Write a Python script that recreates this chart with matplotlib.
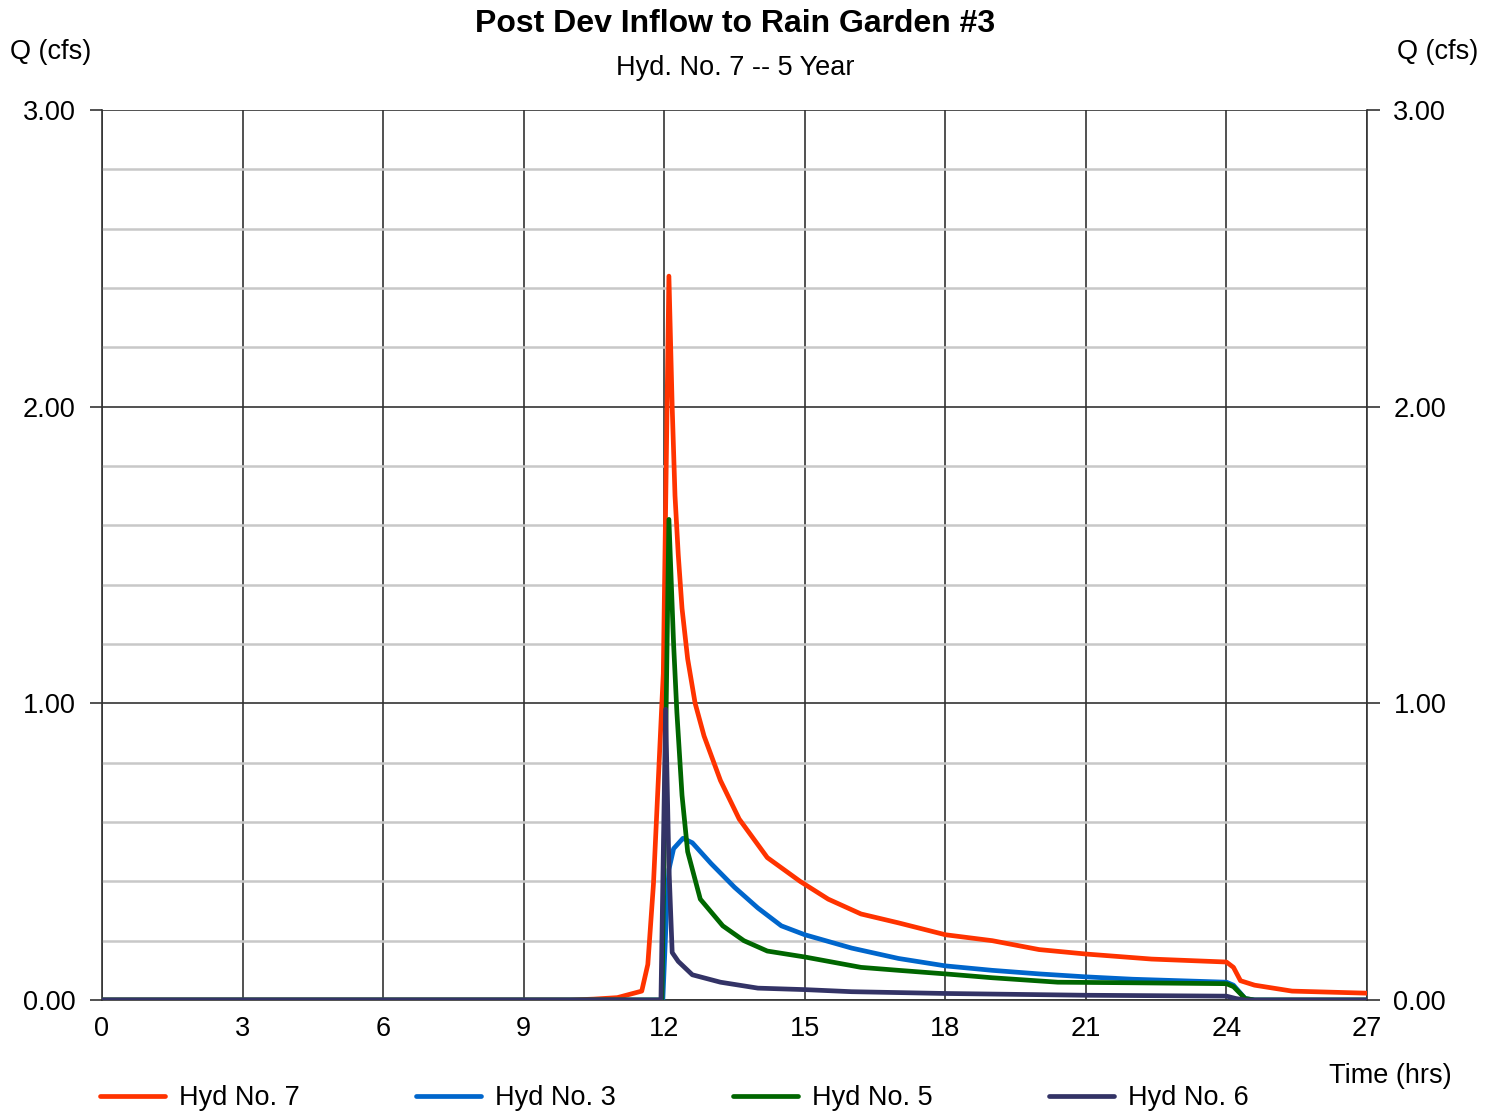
import matplotlib
matplotlib.use("Agg")
import matplotlib.pyplot as plt
from matplotlib.ticker import MultipleLocator

plt.rcParams['font.family'] = ['Liberation Sans', 'DejaVu Sans']

# hydrograph data (time in hrs, Q in cfs)
t_hyd7 = [0, 10.0, 10.5, 11.0, 11.52, 11.65, 11.77, 11.95, 11.98, 12.1, 12.17, 12.23, 12.3,
          12.38, 12.5, 12.66, 12.85, 13.2, 13.6, 14.2, 14.9, 15.5, 16.2, 17.0, 18.0, 19.0,
          20.0, 21.0, 22.4, 24.0, 24.15, 24.3, 24.6, 25.4, 27.0]
q_hyd7 = [0, 0.0, 0.003, 0.008, 0.03, 0.12, 0.39, 1.0, 1.1, 2.44, 2.0, 1.7, 1.5,
          1.32, 1.15, 1.0, 0.89, 0.74, 0.61, 0.48, 0.4, 0.34, 0.29, 0.26, 0.22, 0.2,
          0.17, 0.155, 0.138, 0.128, 0.11, 0.065, 0.05, 0.03, 0.023]

t_hyd3 = [0, 11.9, 11.97, 12.05, 12.1, 12.2, 12.4, 12.6, 13.0, 13.5, 14.0, 14.5, 15.0,
          16.0, 17.0, 18.0, 19.0, 20.0, 21.0, 22.0, 23.0, 24.0, 24.15, 24.4, 24.6, 27.0]
q_hyd3 = [0, 0, 0.0, 0.3, 0.44, 0.51, 0.545, 0.53, 0.46, 0.38, 0.31, 0.25, 0.22,
          0.175, 0.14, 0.115, 0.1, 0.088, 0.078, 0.07, 0.065, 0.06, 0.05, 0.005, 0, 0]

t_hyd5 = [0, 11.95, 12.1, 12.2, 12.27, 12.38, 12.5, 12.77, 13.25, 13.7, 14.2, 15.0, 16.2,
          17.0, 18.0, 19.0, 20.4, 22.0, 24.0, 24.15, 24.4, 24.6, 27.0]
q_hyd5 = [0, 0, 1.62, 1.2, 0.97, 0.69, 0.5, 0.34, 0.25, 0.2, 0.165, 0.145, 0.11,
          0.1, 0.088, 0.075, 0.06, 0.058, 0.055, 0.045, 0.005, 0, 0]

t_hyd6 = [0, 11.93, 12.03, 12.1, 12.17, 12.3, 12.6, 13.2, 14.0, 15.0, 16.0, 18.0, 21.0,
          24.0, 24.2, 24.4, 27.0]
q_hyd6 = [0, 0, 0.98, 0.45, 0.16, 0.13, 0.085, 0.06, 0.04, 0.035, 0.028, 0.022, 0.016,
          0.013, 0.005, 0, 0]

series = [
    ("Hyd No. 7", t_hyd7, q_hyd7, "#ff3300"),
    ("Hyd No. 3", t_hyd3, q_hyd3, "#0066cc"),
    ("Hyd No. 5", t_hyd5, q_hyd5, "#006600"),
    ("Hyd No. 6", t_hyd6, q_hyd6, "#333366"),
]

fs = 19.5

fig = plt.figure(figsize=(14.96, 11.12), dpi=100)
ax = fig.add_axes([102 / 1496, 1 - 1000 / 1112, (1367 - 102) / 1496, (1000 - 110) / 1112])

for i, (name, t, q, col) in enumerate(series):
    ax.plot(t, q, color=col, lw=3.4, label=name, zorder=3 + i,
            solid_capstyle='round', solid_joinstyle='round')

ax.set_xlim(0, 27)
ax.set_ylim(0, 3)
ax.xaxis.set_major_locator(MultipleLocator(3))
ax.yaxis.set_major_locator(MultipleLocator(1))
ax.yaxis.set_minor_locator(MultipleLocator(0.2))
ax.yaxis.set_major_formatter(plt.FormatStrFormatter('%.2f'))

ax.grid(which='major', axis='both', color='#333333', lw=1.2)
ax.grid(which='minor', axis='y', color='#c8c8c8', lw=1.8)
ax.set_axisbelow(True)

for s in ['left', 'right', 'bottom']:
    ax.spines[s].set_color('#333333')
    ax.spines[s].set_linewidth(1.2)
ax.spines['top'].set_visible(False)

ax.tick_params(axis='x', which='major', labelsize=fs, length=0, pad=11.5)
ax.tick_params(axis='y', which='major', labelsize=fs, length=9, width=1.2,
               color='#333333', direction='out', pad=10,
               right=True, labelright=True)
ax.tick_params(axis='y', which='minor', length=0)

fig.text(735 / 1496, 1 - 24 / 1112, "Post Dev Inflow to Rain Garden #3", ha='center',
         va='center', fontsize=23, fontweight='bold')
fig.text(735 / 1496, 1 - 68 / 1112, "Hyd. No. 7 -- 5 Year", ha='center', va='center',
         fontsize=fs)
fig.text(10 / 1496, 1 - 52 / 1112, "Q (cfs)", ha='left', va='center', fontsize=fs)
fig.text(1478 / 1496, 1 - 52 / 1112, "Q (cfs)", ha='right', va='center', fontsize=fs)
fig.text(1452 / 1496, 1 - 1076 / 1112, "Time (hrs)", ha='right', va='center', fontsize=fs)

fig.legend(loc='center left', bbox_to_anchor=(100 / 1496, 1 - 1098 / 1112), ncol=4,
           frameon=False, fontsize=fs, handlelength=2.4, handletextpad=0.52,
           columnspacing=4.3, borderpad=0, borderaxespad=0)

fig.savefig("out.png", dpi=100)
